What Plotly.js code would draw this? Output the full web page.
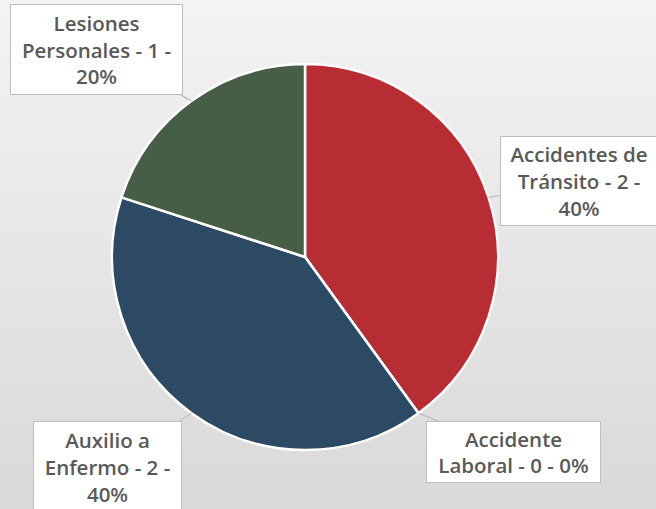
<!DOCTYPE html>
<html>
<head>
<meta charset="utf-8">
<script src="https://cdn.plot.ly/plotly-3.0.1.min.js"></script>
<style>
html,body{margin:0;padding:0;}
body{width:656px;height:509px;background:linear-gradient(to bottom,#F3F3F3 0%,#D9D9D9 100%);}
#chart{width:656px;height:509px;}
</style>
</head>
<body>
<div id="chart"></div>
<script>
const categories = ["Accidentes de Tránsito", "Accidente Laboral", "Auxilio a Enfermo", "Lesiones Personales"];
const values = [2, 0, 2, 1];
const labelText = ["Accidentes de<br>Tránsito - 2 -<br>40%", "Accidente<br>Laboral - 0 - 0%", "Auxilio a<br>Enfermo - 2 -<br>40%", "Lesiones<br>Personales - 1 -<br>20%"];
const colors = ["#B72D33", "#8C8C8C", "#2C4A63", "#455E45"];

const W = 656, H = 509;
const cx = 305, cy = 257, R = 193;
const domX = [(cx - R) / W, (cx + R) / W];
const domY = [(H - cy - R) / H, (H - cy + R) / H];

// label box offsets (pixels from slice edge point) and sizes
const boxOff = [[90, -16], [95, 39], [-84, 54], [-95, -51]];
const boxSize = [[156, 88], [173, 60], [147, 90], [171, 89]];

const total = values.reduce((a, b) => a + b, 0);
let cum = 0;
const annotations = categories.map((c, i) => {
  const mid = (cum + values[i] / 2) / total;
  cum += values[i];
  const ang = mid * 2 * Math.PI;
  const px = cx + R * Math.sin(ang);
  const py = cy - R * Math.cos(ang);
  return {
    xref: 'paper', yref: 'paper',
    x: px / W, y: 1 - py / H,
    ax: boxOff[i][0], ay: boxOff[i][1],
    axref: 'pixel', ayref: 'pixel',
    text: labelText[i],
    showarrow: true, arrowhead: 0, arrowwidth: 1.2, arrowcolor: '#BFBFBF',
    standoff: 0, startstandoff: 0,
    bgcolor: '#FFFFFF', bordercolor: '#BFBFBF', borderwidth: 1, borderpad: 0,
    width: boxSize[i][0], height: boxSize[i][1],
    font: {family: 'Open Sans, sans-serif', size: 20.5, color: '#595959', weight: 600},
    align: 'center', valign: 'middle'
  };
});

const data = [{
  type: 'pie',
  labels: categories,
  values: values,
  sort: false,
  direction: 'clockwise',
  rotation: 0,
  marker: {colors: colors, line: {color: '#FFFFFF', width: 2.5}},
  textinfo: 'none',
  hoverinfo: 'label+value+percent',
  domain: {x: domX, y: domY},
  showlegend: false
}];

const layout = {
  width: W, height: H,
  margin: {l: 0, r: 0, t: 0, b: 0},
  paper_bgcolor: 'rgba(0,0,0,0)',
  plot_bgcolor: 'rgba(0,0,0,0)',
  showlegend: false,
  annotations: annotations
};

Plotly.newPlot('chart', data, layout, {displayModeBar: false, staticPlot: true});
</script>
</body>
</html>
